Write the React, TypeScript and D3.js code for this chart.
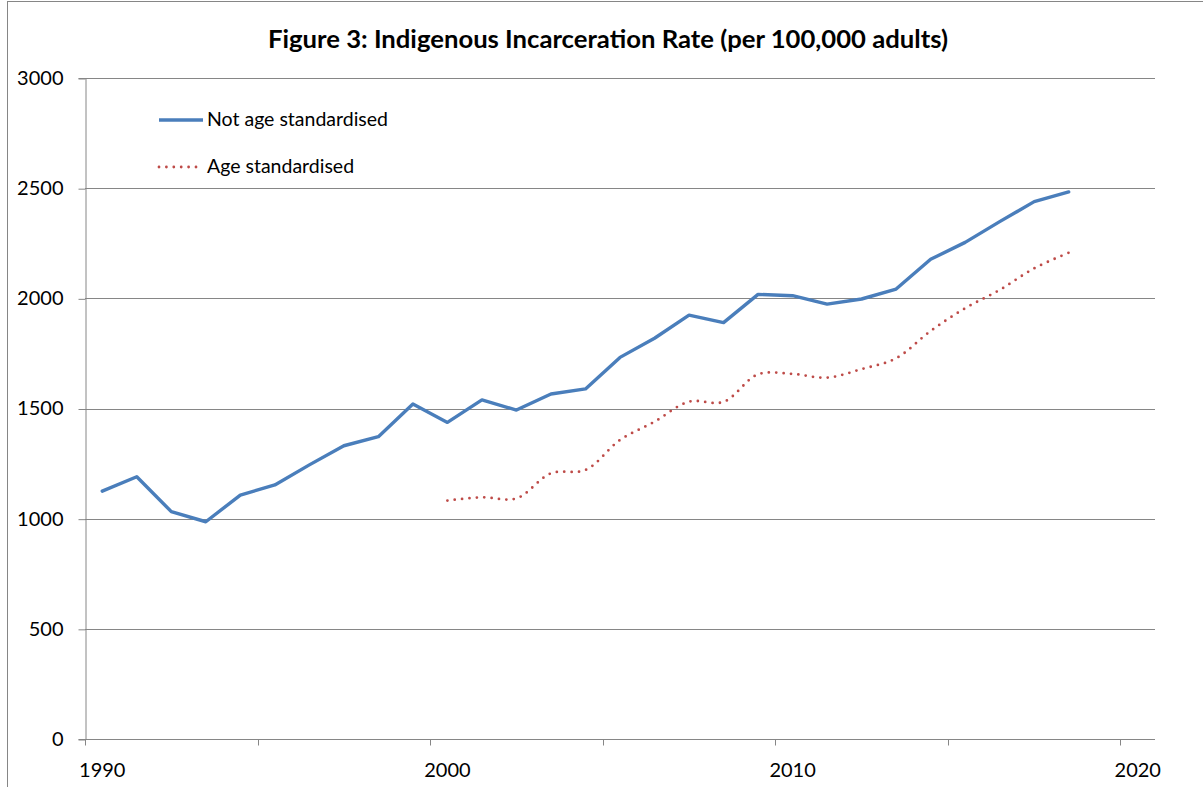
import React, { useEffect, useRef } from 'react';
import * as d3 from 'd3';

// x categories (one per year, Excel-style category axis)
const years: number[] = d3.range(1990, 2021);
const labelYears: number[] = [1990, 2000, 2010, 2020];
const tickYears: number[] = [1990, 1995, 2000, 2005, 2010, 2015, 2020];
const yTicks: number[] = [0, 500, 1000, 1500, 2000, 2500, 3000];

// Not age standardised, 1990-2018
const notAgeYears: number[] = d3.range(1990, 2019);
const notAgeValues: number[] = [
  1125, 1190, 1032, 986, 1107, 1153, 1244, 1331, 1372, 1520,
  1437, 1539, 1493, 1566, 1589, 1732, 1819, 1924, 1890, 2018,
  2012, 1974, 1997, 2042, 2177, 2254, 2348, 2439, 2483,
];

// Age standardised, 2000-2018
const ageYears: number[] = d3.range(2000, 2019);
const ageValues: number[] = [
  1082, 1097, 1092, 1206, 1221, 1357, 1440, 1531, 1530, 1655,
  1657, 1640, 1679, 1728, 1852, 1955, 2038, 2136, 2207,
];

const seriesNames: string[] = ['Not age standardised', 'Age standardised'];

const TITLE = 'Figure 3: Indigenous Incarceration Rate (per 100,000 adults)';
const FONT = 'Lato, "Open Sans", sans-serif';

const App = () => {
  const svgRef = useRef<SVGSVGElement>(null);
  const width = 1203;
  const height = 787;

  useEffect(() => {
    const svg = d3.select(svgRef.current);
    svg.selectAll('*').remove();

    const margin = { top: 78, right: 48, bottom: 48, left: 85 };
    const x0 = margin.left;
    const x1 = width - margin.right;
    const yBottom = height - margin.bottom;

    // chart area border
    svg.append('rect')
      .attr('x', 7.5).attr('y', 1.5)
      .attr('width', width + 10).attr('height', height + 10)
      .attr('fill', 'white')
      .attr('stroke', '#868686')
      .attr('stroke-width', 1);

    const xScale = d3.scaleBand<number>()
      .domain(years)
      .range([x0, x1])
      .padding(0);

    const yScale = d3.scaleLinear()
      .domain([0, 3000])
      .range([yBottom, margin.top]);

    const cx = (yr: number) => (xScale(yr) as number) + xScale.bandwidth() / 2;

    // title
    svg.append('text')
      .attr('x', 608)
      .attr('y', 48)
      .attr('text-anchor', 'middle')
      .attr('font-family', FONT)
      .attr('font-weight', 'bold')
      .attr('font-size', 24)
      .attr('textLength', 680)
      .attr('lengthAdjust', 'spacingAndGlyphs')
      .attr('fill', '#000')
      .text(TITLE);

    // gridlines
    svg.append('g')
      .selectAll('line')
      .data(yTicks.filter(d => d > 0))
      .enter().append('line')
      .attr('x1', x0).attr('x2', x1)
      .attr('y1', d => Math.round(yScale(d)) + 0.5)
      .attr('y2', d => Math.round(yScale(d)) + 0.5)
      .attr('stroke', '#868686')
      .attr('stroke-width', 1);

    // y axis
    const yAxis = svg.append('g')
      .attr('transform', `translate(${x0 + 0.5},0)`)
      .call(d3.axisLeft(yScale).tickValues(yTicks).tickSize(7).tickPadding(15).tickFormat(d3.format('d')));
    yAxis.select('.domain').attr('stroke', '#868686');
    yAxis.selectAll('.tick line').attr('stroke', '#868686').attr('transform', 'translate(0,0.5)');
    yAxis.selectAll('.tick text')
      .attr('font-family', FONT)
      .attr('font-size', 20)
      .attr('fill', '#000');

    // x axis line + ticks
    const xAxis = svg.append('g')
      .attr('transform', `translate(0,${Math.round(yBottom) + 0.5})`);
    xAxis.append('line')
      .attr('x1', x0).attr('x2', x1)
      .attr('stroke', '#868686');
    xAxis.selectAll('.xtick')
      .data(tickYears)
      .enter().append('line')
      .attr('class', 'xtick')
      .attr('x1', d => Math.round(xScale(d) as number) + 0.5)
      .attr('x2', d => Math.round(xScale(d) as number) + 0.5)
      .attr('y1', 0).attr('y2', 6)
      .attr('stroke', '#868686');
    xAxis.selectAll('.xlabel')
      .data(labelYears)
      .enter().append('text')
      .attr('class', 'xlabel')
      .attr('x', d => cx(d))
      .attr('y', 37)
      .attr('text-anchor', 'middle')
      .attr('font-family', FONT)
      .attr('font-size', 20)
      .attr('fill', '#000')
      .text(d => d);

    // lines
    const notAge = notAgeYears.map((yr, i) => ({ yr, v: notAgeValues[i] }));
    const age = ageYears.map((yr, i) => ({ yr, v: ageValues[i] }));

    const straight = d3.line<{ yr: number; v: number }>()
      .x(d => cx(d.yr))
      .y(d => yScale(d.v));

    const smooth = d3.line<{ yr: number; v: number }>()
      .x(d => cx(d.yr))
      .y(d => yScale(d.v))
      .curve(d3.curveCatmullRom.alpha(0.5));

    svg.append('path')
      .datum(age)
      .attr('fill', 'none')
      .attr('stroke', '#BE4B48')
      .attr('stroke-width', 2.8)
      .attr('stroke-linecap', 'round')
      .attr('stroke-dasharray', '0 7.4')
      .attr('d', smooth);

    svg.append('path')
      .datum(notAge)
      .attr('fill', 'none')
      .attr('stroke', '#4A7EBB')
      .attr('stroke-width', 3.4)
      .attr('stroke-linejoin', 'round')
      .attr('stroke-linecap', 'round')
      .attr('d', straight);

    // legend
    const legend = svg.append('g').attr('transform', 'translate(159,0)');
    const legendRows = legend.selectAll('g')
      .data(seriesNames)
      .enter().append('g')
      .attr('transform', (d, i) => `translate(0,${120 + i * 47})`);
    legendRows.append('line')
      .attr('x1', 0).attr('x2', (d, i) => (i === 0 ? 44 : 41))
      .attr('stroke', (d, i) => (i === 0 ? '#4A7EBB' : '#BE4B48'))
      .attr('stroke-width', (d, i) => (i === 0 ? 3.4 : 2.8))
      .attr('stroke-linecap', (d, i) => (i === 0 ? 'butt' : 'round'))
      .attr('stroke-dasharray', (d, i) => (i === 0 ? null : '0 7.4'));
    legendRows.append('text')
      .attr('x', 48)
      .attr('y', 6)
      .attr('font-family', FONT)
      .attr('font-size', 19.5)
      .attr('fill', '#000')
      .text(d => d);
  }, []);

  return (
    <svg
      ref={svgRef}
      width={width}
      height={height}
      style={{ position: 'absolute', left: 0, top: 0, background: 'white' }}
    />
  );
};

export default App;
